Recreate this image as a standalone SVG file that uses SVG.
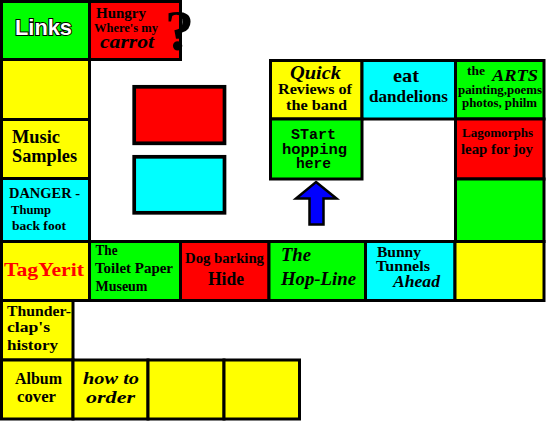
<svg xmlns="http://www.w3.org/2000/svg" width="550" height="425" viewBox="0 0 550 425">
<style>
.c{stroke:#000;stroke-width:3}
.g{fill:#00ff00}.r{fill:#ff0000}.y{fill:#ffff00}.b{fill:#00ffff}
text{font-family:"Liberation Serif","Times New Roman",serif;font-weight:bold;fill:#000}
.i{font-style:italic}
.m{font-family:"Liberation Mono","Courier New",monospace;font-weight:bold}
.s{font-family:"Liberation Sans",Arial,sans-serif}
</style>
<rect width="550" height="425" fill="#fff"/>

<g id="links"><rect class="c g" x="1.5" y="1.5" width="88" height="58"/>
<text class="s" x="15" y="35" font-size="22" textLength="57" lengthAdjust="spacingAndGlyphs" style="fill:#fff;stroke:#000;stroke-width:2;paint-order:stroke">Links</text></g>

<g id="hungry"><rect class="c r" x="89.5" y="1.5" width="91" height="58"/>
<text x="96" y="18" font-size="15" textLength="50" lengthAdjust="spacingAndGlyphs">Hungry</text>
<text x="94" y="31.5" font-size="11.5" textLength="64" lengthAdjust="spacingAndGlyphs">Where's my</text>
<text class="i" x="100" y="47.5" font-size="18.5" textLength="54" lengthAdjust="spacingAndGlyphs">carrot</text>
<text x="165" y="50" font-size="58" textLength="29" lengthAdjust="spacingAndGlyphs">?</text></g>

<g id="blank1"><rect class="c y" x="1.5" y="59.5" width="88" height="60"/></g>

<g id="music"><rect class="c y" x="1.5" y="119.5" width="88" height="59"/>
<text x="12" y="143" font-size="18" textLength="48" lengthAdjust="spacingAndGlyphs">Music</text>
<text x="12" y="161.5" font-size="18" textLength="65" lengthAdjust="spacingAndGlyphs">Samples</text></g>

<g id="danger"><rect class="c b" x="1.5" y="178.5" width="88" height="63"/>
<text x="9" y="198" font-size="15" textLength="71" lengthAdjust="spacingAndGlyphs">DANGER -</text>
<text x="11" y="214" font-size="13" textLength="40" lengthAdjust="spacingAndGlyphs">Thump</text>
<text x="12" y="230" font-size="13.5" textLength="54" lengthAdjust="spacingAndGlyphs">back foot</text></g>

<g id="centerRed"><rect class="r" x="134.2" y="86.8" width="90.3" height="56.5" stroke="#000" stroke-width="3.7"/></g>
<g id="centerCyan"><rect class="b" x="134.2" y="156.8" width="90.3" height="56" stroke="#000" stroke-width="3.7"/></g>

<g id="quick"><rect class="c y" x="270.5" y="60.5" width="91.5" height="58.5"/>
<text class="i" x="290" y="79" font-size="18" textLength="51" lengthAdjust="spacingAndGlyphs">Quick</text>
<text x="278" y="94.3" font-size="15" textLength="74" lengthAdjust="spacingAndGlyphs">Reviews of</text>
<text x="286" y="110" font-size="15" textLength="61" lengthAdjust="spacingAndGlyphs">the band</text></g>

<g id="eat"><rect class="c b" x="362" y="60.5" width="93.5" height="58.5"/>
<text x="393" y="81.7" font-size="19" textLength="26" lengthAdjust="spacingAndGlyphs">eat</text>
<text x="369" y="101.7" font-size="17" textLength="79" lengthAdjust="spacingAndGlyphs">dandelions</text></g>

<g id="arts"><rect class="c g" x="455.5" y="60.5" width="88.5" height="58.5"/>
<text x="467" y="75" font-size="13" textLength="18" lengthAdjust="spacingAndGlyphs">the</text>
<text class="i" x="492" y="81" font-size="17" textLength="46" lengthAdjust="spacingAndGlyphs">ARTS</text>
<text x="458" y="94" font-size="11.5" textLength="84" lengthAdjust="spacingAndGlyphs">painting,poems</text>
<text x="462" y="107.3" font-size="11.5" textLength="75" lengthAdjust="spacingAndGlyphs">photos, philm</text></g>

<g id="start"><rect class="c g" x="270.5" y="119" width="91.5" height="60"/>
<text class="m" x="291" y="139" font-size="14" textLength="45" lengthAdjust="spacingAndGlyphs">STart</text>
<text class="m" x="282" y="154" font-size="14" textLength="65" lengthAdjust="spacingAndGlyphs">hopping</text>
<text class="m" x="296" y="168" font-size="14" textLength="35" lengthAdjust="spacingAndGlyphs">here</text></g>

<g id="lagomorphs"><rect class="c r" x="455.5" y="119" width="88.5" height="60"/>
<text x="462" y="136.7" font-size="13" textLength="71" lengthAdjust="spacingAndGlyphs">Lagomorphs</text>
<text x="461" y="154.3" font-size="14.5" textLength="72" lengthAdjust="spacingAndGlyphs">leap for joy</text></g>

<g id="greenRight"><rect class="c g" x="455.5" y="179" width="88.5" height="62.5"/></g>

<g id="tagyerit"><rect class="c y" x="1.5" y="241.5" width="88" height="59"/>
<text x="4" y="275.7" font-size="19" textLength="80" lengthAdjust="spacingAndGlyphs" style="fill:#ff0000">TagYerit</text></g>

<g id="toilet"><rect class="c g" x="89.5" y="241.5" width="91" height="59"/>
<text x="95.5" y="255" font-size="14" textLength="22" lengthAdjust="spacingAndGlyphs">The</text>
<text x="95" y="272.5" font-size="14" textLength="78" lengthAdjust="spacingAndGlyphs">Toilet Paper</text>
<text x="95.5" y="291" font-size="14" textLength="52" lengthAdjust="spacingAndGlyphs">Museum</text></g>

<g id="dog"><rect class="c r" x="180.5" y="241.5" width="88.5" height="59"/>
<text x="185" y="263.3" font-size="14.5" textLength="79" lengthAdjust="spacingAndGlyphs">Dog barking</text>
<text x="208" y="285" font-size="18" textLength="36" lengthAdjust="spacingAndGlyphs">Hide</text></g>

<g id="hopline"><rect class="c g" x="269" y="241.5" width="96.5" height="59"/>
<text class="i" x="281" y="260.7" font-size="18" textLength="30" lengthAdjust="spacingAndGlyphs">The</text>
<text class="i" x="281" y="285" font-size="18" textLength="75" lengthAdjust="spacingAndGlyphs">Hop-Line</text></g>

<g id="bunny"><rect class="c b" x="365.5" y="241.5" width="89.5" height="59"/>
<text x="377" y="257.3" font-size="14.5" textLength="44" lengthAdjust="spacingAndGlyphs">Bunny</text>
<text x="376" y="270.7" font-size="14.5" textLength="54" lengthAdjust="spacingAndGlyphs">Tunnels</text>
<text class="i" x="393" y="287.3" font-size="17" textLength="47" lengthAdjust="spacingAndGlyphs">Ahead</text></g>

<g id="blank2"><rect class="c y" x="455" y="241.5" width="89" height="59"/></g>

<g id="thunder"><rect class="c y" x="1.5" y="300.5" width="71.5" height="59.5"/>
<text x="7" y="316" font-size="15.5" textLength="64" lengthAdjust="spacingAndGlyphs">Thunder-</text>
<text x="7" y="331.7" font-size="15.5" textLength="43" lengthAdjust="spacingAndGlyphs">clap's</text>
<text x="7" y="350" font-size="15.5" textLength="51" lengthAdjust="spacingAndGlyphs">history</text></g>

<g id="album"><rect class="c y" x="1.5" y="360" width="71.5" height="59"/>
<text x="15" y="384.3" font-size="16" textLength="47" lengthAdjust="spacingAndGlyphs">Album</text>
<text x="17" y="402.3" font-size="16" textLength="39" lengthAdjust="spacingAndGlyphs">cover</text></g>

<g id="order"><rect class="c y" x="73" y="360" width="75" height="59"/>
<text class="i" x="83" y="384.3" font-size="17" textLength="56" lengthAdjust="spacingAndGlyphs">how to</text>
<text class="i" x="86" y="403" font-size="17" textLength="49" lengthAdjust="spacingAndGlyphs">order</text></g>

<g id="blank3"><rect class="c y" x="148" y="360" width="76" height="59"/></g>
<g id="blank4"><rect class="c y" x="224" y="360" width="75.5" height="59"/></g>

<g id="connectors">
<polygon points="316,182 336.5,198.5 323.5,198.5 323.5,224.5 309.5,224.5 309.5,198.5 296,198.5" fill="#0000ff" stroke="#000" stroke-width="2.5" stroke-linejoin="miter"/>
</g>
</svg>
